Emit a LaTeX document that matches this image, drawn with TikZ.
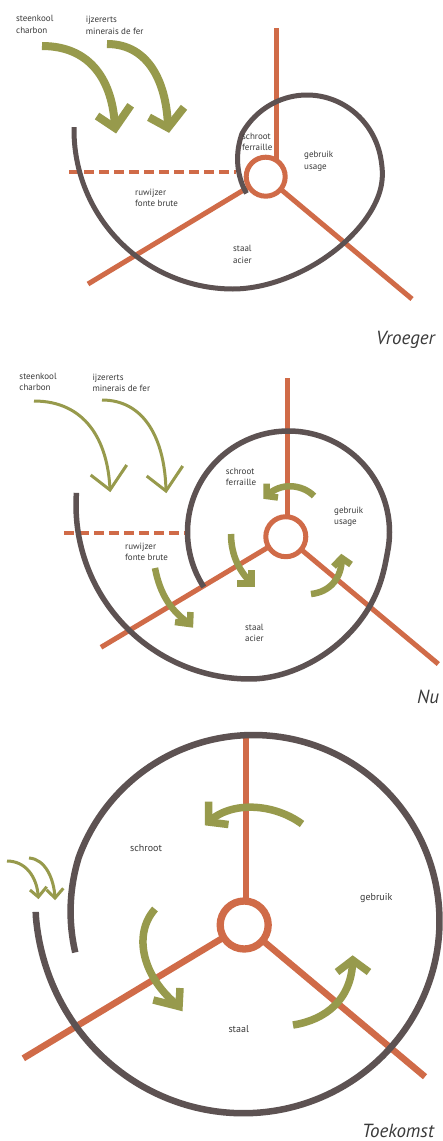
\documentclass[tikz,border=0pt]{standalone}
\usepackage{fontspec}
\setmainfont{PT Sans}
\usetikzlibrary{calc}
\definecolor{rust}{HTML}{D06B48}
\definecolor{slate}{HTML}{5D5252}
\definecolor{olive}{HTML}{979A4C}
\definecolor{ink}{HTML}{3A3A3A}
\begin{document}
\begin{tikzpicture}[x=1pt,y=-1pt,
  declare function={
    clampf(\v)=max(0,min(1,\v));
    sstep(\v)=3*clampf(\v)*clampf(\v)-2*clampf(\v)*clampf(\v)*clampf(\v);
    wa(\t)=sstep((90-\t)/100);
    fa(\t)=1-0.15*clampf((-150-\t)/50);
    wb(\t)=sstep((90-\t)/80);
    rc(\t)=186+32*clampf((\t-20)/162)*clampf((\t-20)/162)-5*clampf((-160-\t)/30);
  },
  spoke/.style={draw=rust,line width=#1},
  ring/.style={circle,draw=rust,fill=white,line width=#1,inner sep=0pt},
  spiral/.style={draw=slate,line width=#1,line cap=butt},
  dashline/.style={draw=rust,line width=4pt,dash pattern=on 10pt off 5pt},
  shaft/.style={draw=olive,line width=#1,line cap=butt},
  chev/.style={draw=olive,line width=#1,line join=miter,line cap=butt},
  lbl/.style={font=\fontsize{9}{11.5}\selectfont,text=ink,align=left,inner sep=0pt,anchor=west},
  lblb/.style={font=\fontsize{10}{12}\selectfont,text=ink,inner sep=0pt,anchor=west},
  ttl/.style={font=\fontsize{19}{22}\selectfont\itshape,text=ink,inner sep=0pt,anchor=base west},
]
\fill[white] (0,0) rectangle (443,1141);
\useasboundingbox (0,0) rectangle (443,1141);

%% ---------------- Panel 1: Vroeger ----------------
\coordinate (c1) at (265.7,176.7);
\coordinate (v1) at (276,28);
\coordinate (l1) at (88,284);
\coordinate (r1) at (412,299);
\draw[spoke=5pt] (v1) -- (v1 |- c1);
\draw[spoke=5pt] (l1) -- (c1);
\draw[spoke=5pt] (r1) -- (c1);
\coordinate (d1a) at (69,172);
\coordinate (d1b) at (236,172);
\draw[dashline] (d1a) -- (d1b);
\draw[spiral=5pt] plot[domain=181:-199,samples=260,variable=\t]
  ({(1-wa(\t))*(233+159*cos(\t))+wa(\t)*(307+75*fa(\t)*cos(\t))},
   {(1-wa(\t))*(130+159*sin(\t))+wa(\t)*(172+77*fa(\t)*sin(\t))});
\node[ring=5pt,minimum size=39pt] (h1) at (c1) {};

\coordinate (a1s) at (42,46);   \coordinate (a1t) at (115,128);
\draw[shaft=8pt] (a1s) .. controls (90,46) and (113,80) .. (a1t);
\draw[chev=8pt] (97,116) -- (a1t) -- (130.7,105.3);
\coordinate (b1s) at (107,44);  \coordinate (b1t) at (168,127.7);
\draw[shaft=8pt] (b1s) .. controls (150,44) and (167,85) .. (b1t);
\draw[chev=8pt] (149,117.3) -- (b1t) -- (184,107.3);

\node[lbl] (s1) at (16,24.3) {steenkool\\charbon};
\node[lbl] (i1) at (85.7,25.5) {ijzererts\\minerais de fer};
\node[lbl] (k1) at (242,142) {schroot\\ferraille};
\node[lbl] (g1) at (304,161.5) {gebruik\\usage};
\node[lbl] (w1) at (135,198) {ruwijzer\\fonte brute};
\node[lbl] (st1) at (233,254.5) {staal\\acier};
\node[ttl] (t1) at (376,344) {Vroeger};

%% ---------------- Panel 2: Nu ----------------
\coordinate (c2) at (285.8,536.7);
\coordinate (v2) at (287.3,378);
\coordinate (l2) at (101,647.3);
\coordinate (r2) at (438.3,664);
\draw[spoke=5pt] (v2) -- (v2 |- c2);
\draw[spoke=5pt] (l2) -- (c2);
\draw[spoke=5pt] (r2) -- (c2);
\coordinate (d2a) at (64,533);
\coordinate (d2b) at (190,533);
\draw[dashline] (d2a) -- (d2b);
\draw[spiral=5.5pt] plot[domain=184:-213,samples=260,variable=\t]
  ({(1-wb(\t))*(250+174*cos(\t))+wb(\t)*(288.5+101*cos(\t))},
   {(1-wb(\t))*(505+174*sin(\t))+wb(\t)*(532+101*sin(\t))});
\node[ring=5pt,minimum size=40pt] (h2) at (c2) {};

\coordinate (a2s) at (34,401);  \coordinate (a2t) at (110,490);
\draw[shaft=3pt] (a2s) .. controls (85,401) and (108,440) .. (a2t);
\draw[chev=3pt] (90.7,475) -- (a2t) -- (126.7,465);
\coordinate (b2s) at (102,400); \coordinate (b2t) at (166,491);
\draw[shaft=3pt] (b2s) .. controls (145,400) and (165,440) .. (b2t);
\draw[chev=3pt] (146.7,476) -- (b2t) -- (182.7,466);

\coordinate (p2s) at (314,496); \coordinate (p2t) at (266.7,496);
\draw[shaft=6.5pt] (p2s) .. controls (302,484) and (280,482) .. (p2t);
\draw[chev=6.5pt] (266.7,483.5) -- (p2t) -- (278,497.5);
\coordinate (q2s) at (231,534); \coordinate (q2t) at (251.7,583.3);
\draw[shaft=6.5pt] (q2s) .. controls (231,556) and (240,572) .. (q2t);
\draw[chev=6.5pt] (237.3,583.3) -- (q2t) -- (251.7,570);
\coordinate (u2s) at (311,594); \coordinate (u2t) at (341.7,558);
\draw[shaft=6.5pt] (u2s) .. controls (330,592) and (342,578) .. (u2t);
\draw[chev=6.5pt] (333.5,566.5) -- (u2t) -- (351,564.5);
\coordinate (w2s) at (155,568); \coordinate (w2t) at (190,624);
\draw[shaft=6.5pt] (w2s) .. controls (160,595) and (172,612) .. (w2t);
\draw[chev=6.5pt] (175,622) -- (w2t) -- (190.5,612);

\node[lbl] (s2) at (19.3,381.7) {steenkool\\charbon};
\node[lbl] (i2) at (92.3,382.7) {ijzererts\\minerais de fer};
\node[lbl] (k2) at (225.7,476.7) {schroot\\ferraille};
\node[lbl] (g2) at (334,517) {gebruik\\usage};
\node[lbl] (w2) at (125,552) {ruwijzer\\fonte brute};
\node[lbl] (st2) at (245,632.7) {staal\\acier};
\node[ttl] (t2) at (417,703) {Nu};

%% ---------------- Panel 3: Toekomst ----------------
\coordinate (c3) at (244.2,925);
\coordinate (v3) at (246,738);
\coordinate (l3) at (23.3,1058.3);
\coordinate (r3) at (425,1076.7);
\draw[spoke=6.5pt] (v3) -- (v3 |- c3);
\draw[spoke=6.5pt] (l3) -- (c3);
\draw[spoke=6.5pt] (r3) -- (c3);
\draw[spiral=6.5pt] plot[domain=182.4:-190,samples=300,variable=\t]
  ({253.5+rc(\t)*cos(\t)},{921+rc(\t)*sin(\t)});
\node[ring=7.3pt,minimum size=48pt] (h3) at (c3) {};

\coordinate (a3s) at (7,861);   \coordinate (a3t) at (38.3,897);
\draw[shaft=3pt] (a3s) .. controls (25,861) and (37,876) .. (a3t);
\draw[chev=3pt] (30,890) -- (a3t) -- (46.7,886.7);
\coordinate (b3s) at (29,858);  \coordinate (b3t) at (55,898);
\draw[shaft=3pt] (b3s) .. controls (45,859) and (54,878) .. (b3t);
\draw[chev=3pt] (46.7,890) -- (b3t) -- (63.3,888.3);

\coordinate (p3s) at (302,824); \coordinate (p3t) at (208.5,822);
\draw[shaft=7.5pt] (p3s) .. controls (275,804) and (232,800) .. (p3t);
\draw[chev=7.5pt] (208.5,801.7) -- (p3t) -- (228.5,824.5);
\coordinate (q3s) at (155,909); \coordinate (q3t) at (179,1006.5);
\draw[shaft=7.5pt] (q3s) .. controls (132,935) and (143,978) .. (q3t);
\draw[chev=7.5pt] (153.3,1000) -- (q3t) -- (180,988);
\coordinate (u3s) at (293,1025); \coordinate (u3t) at (352.7,960);
\draw[shaft=7.5pt] (u3s) .. controls (325,1020) and (352,1000) .. (u3t);
\draw[chev=7.5pt] (337,972) -- (u3t) -- (369,972);

\node[lblb] (k3) at (130,847.7) {schroot};
\node[lblb] (g3) at (360,898.3) {gebruik};
\node[lblb] (st3) at (228.3,1029.3) {staal};
\node[ttl] (t3) at (362,1137) {Toekomst};
\end{tikzpicture}
\end{document}
